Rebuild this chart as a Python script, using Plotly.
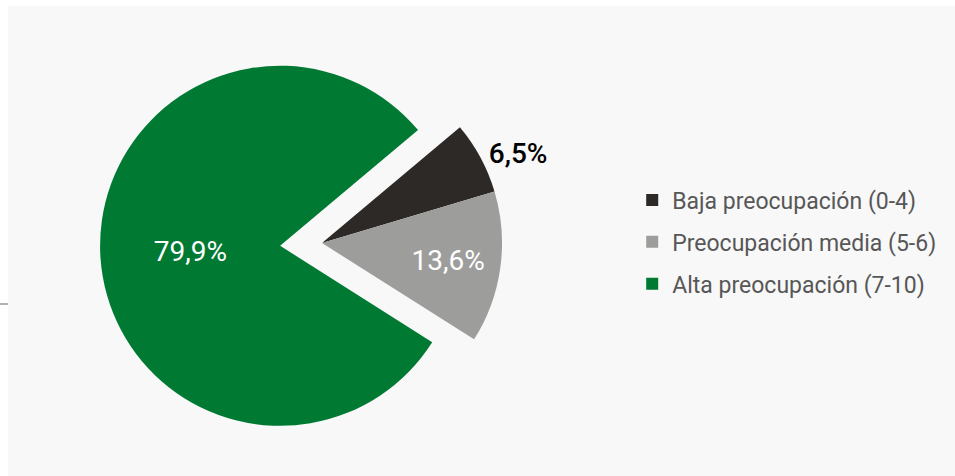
import plotly.graph_objects as go

labels = ["Baja preocupación (0-4)", "Preocupación media (5-6)", "Alta preocupación (7-10)"]
values = [6.5, 13.6, 79.9]
colors = ["#2d2926", "#9d9d9c", "#007a33"]
text_positions = ["outside", "inside", "inside"]
pulls = [0, 0, 0.233]

fig = go.Figure()
fig.add_trace(go.Pie(
    labels=labels,
    values=values,
    sort=False,
    direction="clockwise",
    rotation=50,
    pull=pulls,
    marker=dict(colors=colors, line=dict(width=0)),
    texttemplate="%{value:.1f}%",
    textposition=text_positions,
    insidetextorientation="horizontal",
    insidetextfont=dict(family="Roboto", size=28, color="#ffffff"),
    outsidetextfont=dict(family="Roboto", size=28, color="#000000", weight=500),
    domain=dict(x=[0.1047, 0.5696], y=[0.0231, 0.9559]),
    showlegend=False,
    hoverinfo="label+percent",
))

# legend entries
for lab, col in zip(labels, colors):
    fig.add_trace(go.Scatter(
        x=[None], y=[None], name=lab, mode="markers",
        marker=dict(symbol="square", size=12, color=col),
        legendgroup=lab,
    ))

fig.update_layout(
    width=955, height=476,
    margin=dict(l=0, r=0, t=0, b=0, autoexpand=False),
    paper_bgcolor="#ffffff",
    plot_bgcolor="rgba(0,0,0,0)",
    separators=",.",
    xaxis=dict(visible=False),
    yaxis=dict(visible=False),
    legend=dict(
        x=0.662, y=0.4916, xanchor="left", yanchor="middle",
        font=dict(family="Roboto", size=23, color="#575757"),
        tracegroupgap=9, bgcolor="rgba(0,0,0,0)",
    ),
    shapes=[
        dict(type="rect", xref="paper", yref="paper", x0=8/955, x1=1, y0=0, y1=1-6/476,
             fillcolor="#f8f8f8", line=dict(width=0), layer="below"),
        dict(type="line", xref="paper", yref="paper", x0=0, x1=8/955, y0=1-304/476, y1=1-304/476,
             line=dict(color="#9a9a9a", width=1.5)),
    ],
)

fig.write_html("out.html", config={"displayModeBar": False},
               post_script="document.body.style.margin='0';")
